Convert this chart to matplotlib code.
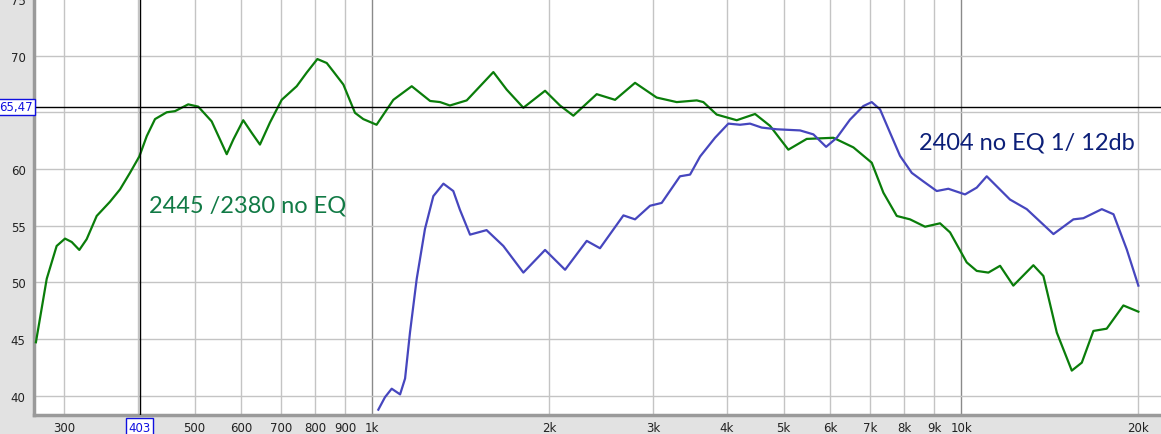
import numpy as np
import matplotlib
matplotlib.use("Agg")
import matplotlib.pyplot as plt

# green trace: 2445 /2380 no EQ
green_f = [268.8, 280.4, 291.5, 301.2, 309.2, 318.5, 327.8, 340.9, 359, 373.5,
           388.2, 402.7, 414.6, 428.2, 448.2, 463, 487.5, 507, 534.3, 552,
           566.7, 581.6, 604.5, 624.6, 645.3, 671.1, 702.6, 745, 774.6, 807.7,
           837.8, 859.8, 894.1, 935.7, 966.5, 1018, 1087, 1168, 1255, 1305,
           1356, 1448, 1607, 1693, 1807, 1967, 2085, 2197, 2407, 2586,
           2796, 3043, 3291, 3559, 3652, 3847, 4161, 4470, 4740, 5091,
           5470, 6071, 6566, 7053, 7382, 7778, 8192, 8687, 9211, 9579,
           10224, 10632, 11127, 11648, 12267, 13267, 13798, 14541, 15417, 16032,
           16776, 17672, 18862, 20000]
green_db = [44.7, 50.3, 53.2, 53.85, 53.55, 52.85, 53.8, 55.85, 57.1, 58.2,
            59.65, 61.1, 62.9, 64.4, 65.0, 65.1, 65.7, 65.5, 64.2, 62.6,
            61.3, 62.6, 64.3, 63.2, 62.15, 64.1, 66.1, 67.3, 68.5, 69.7,
            69.35, 68.6, 67.45, 64.95, 64.4, 63.9, 66.1, 67.3, 66.0, 65.9,
            65.6, 66.05, 68.55, 67.0, 65.4, 66.9, 65.6, 64.7, 66.6, 66.1,
            67.6, 66.3, 65.9, 66.05, 65.9, 64.8, 64.3, 64.85, 63.8, 61.7,
            62.65, 62.75, 61.9, 60.55, 57.9, 55.85, 55.55, 54.9, 55.2, 54.4,
            51.75, 51.0, 50.85, 51.45, 49.7, 51.5, 50.55, 45.55, 42.2, 42.9,
            45.7, 45.9, 47.95, 47.4]

# blue trace: 2404 no EQ 1/ 12db
blue_f = [1025, 1052, 1080, 1116, 1138, 1160, 1191, 1230, 1271, 1322,
          1374, 1410, 1467, 1565, 1671, 1807, 1967, 2127, 2315, 2438,
          2672, 2796, 2965, 3103, 3333, 3467, 3606, 3822, 4027, 4215,
          4383, 4587, 4866, 5330, 5615, 5901, 6152, 6478, 6825, 7053,
          7287, 7576, 7879, 8249, 8630, 9094, 9515, 10157, 10632, 11056,
          12108, 12929, 14350, 15515, 16130, 17337, 18147, 19111, 20000]
blue_db = [38.75, 39.85, 40.6, 40.1, 41.5, 45.55, 50.3, 54.7, 57.6, 58.7,
           58.05, 56.4, 54.2, 54.6, 53.2, 50.85, 52.85, 51.1, 53.65, 53.0,
           55.9, 55.55, 56.75, 57.0, 59.35, 59.5, 61.1, 62.75, 64.0, 63.9,
           64.0, 63.65, 63.5, 63.4, 63.05, 61.95, 62.75, 64.35, 65.55, 65.9,
           65.25, 63.2, 61.15, 59.65, 58.9, 58.05, 58.25, 57.75, 58.35, 59.35,
           57.3, 56.45, 54.25, 55.55, 55.65, 56.45, 56.0, 52.9, 49.7]

x_ticks = [300, 403, 500, 600, 700, 800, 900, 1000, 2000, 3000, 4000,
           5000, 6000, 7000, 8000, 9000, 10000, 20000]
x_labels = ["300", "403", "500", "600", "700", "800", "900", "1k", "2k", "3k", "4k",
            "5k", "6k", "7k", "8k", "9k", "10k", "20k"]
y_ticks = [40, 45, 50, 55, 60, 70, 75]
grid_f = [300, 400, 500, 600, 700, 800, 900, 2000, 3000, 4000, 5000,
          6000, 7000, 8000, 9000, 20000]
grid_db = [40, 45, 50, 55, 60, 65, 70]
cursor_f = 403
cursor_db = 65.47

fig = plt.figure(figsize=(11.61, 4.35), dpi=100, facecolor="#e2e2e2")
ax = fig.add_axes([34 / 1161, 19 / 435, 1127 / 1161, 416 / 435])
ax.set_facecolor("white")
ax.set_xscale("log")
ax.set_xlim(266.8, 21850)
ax.set_ylim(38.28, 74.93)

for f in grid_f:
    ax.axvline(f, color="#c4c4c4", lw=1, zorder=1)
for f in [1000, 10000]:
    ax.axvline(f, color="#8a8a8a", lw=1, zorder=1)
for d in grid_db:
    ax.axhline(d, color="#c4c4c4", lw=1, zorder=1)

ax.plot(green_f, green_db, color="#0a7d0a", lw=1.6, zorder=3, solid_joinstyle="round")
ax.plot(blue_f, blue_db, color="#4646be", lw=1.6, zorder=3, solid_joinstyle="round")

# cursors
ax.axvline(cursor_f, color="black", lw=1, zorder=4)
ax.axhline(cursor_db, color="black", lw=1, zorder=4)

ax.set_xticks(x_ticks)
ax.set_xticklabels(x_labels)
ax.xaxis.set_minor_locator(matplotlib.ticker.NullLocator())
ax.set_yticks(y_ticks)
ax.tick_params(axis="x", length=0, pad=4, labelsize=8.5, colors="#222222")
ax.tick_params(axis="y", length=0, pad=6, labelsize=8.5, colors="#222222")
for lab in ax.get_xticklabels():
    if lab.get_text() == "403":
        lab.set_color("#1010e0")
        lab.set_bbox(dict(facecolor="white", edgecolor="#1010e0", lw=1, pad=1.5))

for s in ["top", "right"]:
    ax.spines[s].set_visible(False)
for s in ["left", "bottom"]:
    ax.spines[s].set_color("#9a9a9a")
    ax.spines[s].set_linewidth(2.5)

ax.text(-0.001, cursor_db, "65,47", transform=ax.get_yaxis_transform(),
        ha="right", va="center", fontsize=8.5, color="#1010e0", clip_on=False, zorder=6,
        bbox=dict(facecolor="white", edgecolor="#1010e0", lw=1, pad=1.2))

ax.text(0.1894, 0.505, "2445 /2380 no EQ", color="#117a45", fontsize=17,
        family="Lato", ha="center", va="center", transform=ax.transAxes, zorder=5)
ax.text(0.8807, 0.656, "2404 no EQ 1/ 12db", color="#0c1f78", fontsize=17,
        family="Lato", ha="center", va="center", transform=ax.transAxes, zorder=5)

fig.savefig("out.png", dpi=100, facecolor=fig.get_facecolor())
